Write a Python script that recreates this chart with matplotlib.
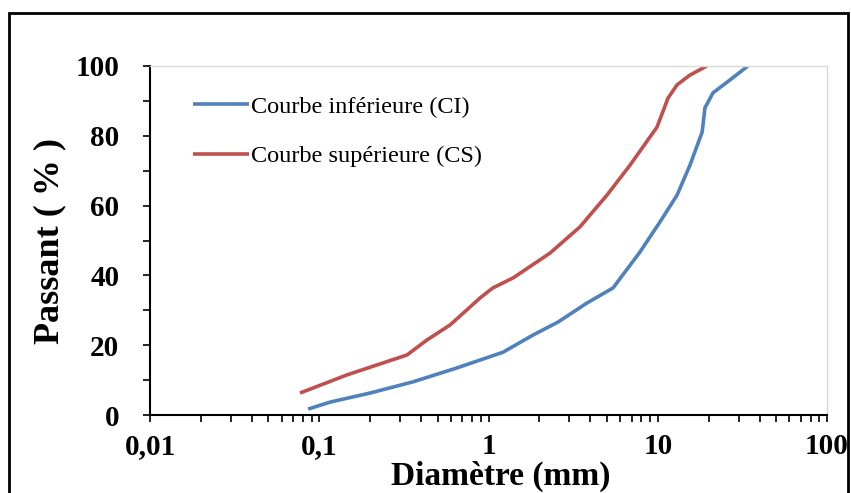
import matplotlib
matplotlib.use("Agg")
import matplotlib.pyplot as plt
from matplotlib.patches import Rectangle
from matplotlib.ticker import FixedLocator, LogLocator, NullFormatter, MultipleLocator

# Grading envelope: diameter (mm) vs. passing (%)
ci_diam = [0.086, 0.116, 0.2, 0.358, 0.652, 1.22, 1.83, 2.57, 3.82, 5.44, 7.85, 10.3,
           13.0, 15.5, 18.3, 19.0, 21.2, 26.7, 34.1]
ci_pass = [1.7, 3.7, 6.3, 9.5, 13.5, 18.0, 22.9, 26.6, 32.1, 36.4, 46.7, 55.3,
           63.0, 71.6, 81.1, 88.0, 92.3, 96.0, 100.0]

cs_diam = [0.077, 0.146, 0.33, 0.433, 0.593, 0.89, 1.06, 1.40, 2.31, 3.47, 5.01, 6.86,
           9.9, 11.5, 13.0, 15.5, 19.5]
cs_pass = [6.3, 11.5, 17.2, 21.5, 25.8, 33.5, 36.4, 39.3, 46.4, 53.9, 63.0, 71.6,
           82.5, 90.8, 94.6, 97.4, 100.0]

x_ticks = [0.01, 0.1, 1, 10, 100]
x_labels = ["0,01", "0,1", "1", "10", "100"]
y_ticks = [0, 20, 40, 60, 80, 100]

serif = ["Liberation Serif", "DejaVu Serif"]
W, H = 851, 493

fig = plt.figure(figsize=(W / 100, H / 100), dpi=100)
fig.patches.append(Rectangle((9 / W, -0.05), 839 / W, 1.05 - 13 / H,
                             transform=fig.transFigure, fill=False,
                             edgecolor="black", linewidth=2.0))

ax = fig.add_axes([150 / W, 1 - 415 / H, 677 / W, 349 / H])
ax.plot(ci_diam, ci_pass, color="#4F81BD", linewidth=2.6, label="Courbe inférieure (CI)",
        solid_joinstyle="round", solid_capstyle="butt")
ax.plot(cs_diam, cs_pass, color="#C0504D", linewidth=2.6, label="Courbe supérieure (CS)",
        solid_joinstyle="round", solid_capstyle="butt")

ax.set_xscale("log")
ax.set_xlim(0.01, 100)
ax.set_ylim(0, 100)
ax.xaxis.set_major_locator(FixedLocator(x_ticks))
ax.set_xticklabels(x_labels)
ax.xaxis.set_minor_locator(LogLocator(base=10, subs=range(2, 10)))
ax.xaxis.set_minor_formatter(NullFormatter())
ax.set_yticks(y_ticks)
ax.yaxis.set_minor_locator(MultipleLocator(10))

for s in ["top", "right"]:
    ax.spines[s].set_color("#d9d9d9")
    ax.spines[s].set_linewidth(1.0)
for s in ["left", "bottom"]:
    ax.spines[s].set_color("black")
    ax.spines[s].set_linewidth(1.5)

ax.tick_params(axis="both", which="both", direction="out", length=5, width=1.2,
               labelsize=21)
ax.tick_params(axis="y", which="major", pad=17)
ax.tick_params(axis="x", which="major", pad=8)
for lab in ax.get_xticklabels() + ax.get_yticklabels():
    lab.set_fontfamily(serif)
    lab.set_fontweight("bold")

ax.set_xlabel("Diamètre (mm)", fontsize=24, fontweight="bold", family=serif, va="center")
ax.xaxis.set_label_coords((501 - 150) / 677, (415 - 476) / 349)
ax.set_ylabel("Passant ( % )", fontsize=26, fontweight="bold", family=serif, va="center")
ax.yaxis.set_label_coords((50 - 150) / 677, 0.5)

leg = ax.legend(loc="upper left", bbox_to_anchor=(0.049, 0.943), frameon=False,
                prop={"family": serif, "size": 17.5}, handlelength=2.3,
                handletextpad=0.1, labelspacing=1.14, borderaxespad=0)

fig.savefig("out.png", dpi=100)
